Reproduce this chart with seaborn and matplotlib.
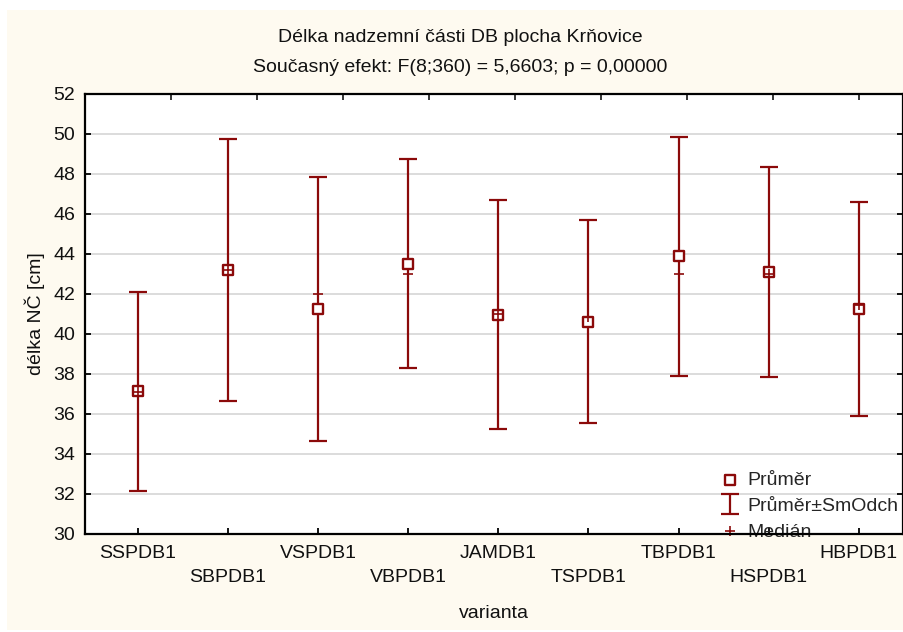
import matplotlib
matplotlib.use("Agg")
import matplotlib.pyplot as plt
import seaborn as sns
import pandas as pd
import numpy as np
from matplotlib.patches import Rectangle

categories = ["SSPDB1", "SBPDB1", "VSPDB1", "VBPDB1", "JAMDB1",
              "TSPDB1", "TBPDB1", "HSPDB1", "HBPDB1"]
means = [37.13, 43.22, 41.25, 43.52, 40.96, 40.62, 43.88, 43.10, 41.24]
sds = [4.97, 6.55, 6.60, 5.22, 5.72, 5.07, 5.97, 5.27, 5.34]
medians = [37.1, 43.2, 42.0, 43.0, 41.0, 40.85, 43.0, 43.0, 41.45]
yticks = [30, 32, 34, 36, 38, 40, 42, 44, 46, 48, 50, 52]

title1 = "Délka nadzemní části DB plocha Krňovice"
title2 = "Současný efekt: F(8;360) = 5,6603; p = 0,00000"
xlabel = "varianta"
ylabel = "délka NČ [cm]"
leg_labels = ["Průměr", "Průměr±SmOdch", "Medián"]

df = pd.DataFrame({"cat": categories, "x": np.arange(len(categories)),
                   "mean": means, "sd": sds, "median": medians})

sns.set_theme(style="white")
plt.rcParams["font.family"] = ["Liberation Sans", "DejaVu Sans"]
FS = 14

RED = "#8B0A0A"
fig = plt.figure(figsize=(9.04, 6.32), dpi=100, facecolor="white")
fig.patches.append(Rectangle((7 / 904, 0.003), 1, 1 - 10 / 632 - 0.003,
                             transform=fig.transFigure, facecolor="#FEFAF0",
                             edgecolor="none", zorder=-10))
ax = fig.add_axes([85 / 904, 1 - 534 / 632, (903 - 85) / 904, 440 / 632])
ax.set_facecolor("white")

eb = ax.errorbar(df["x"], df["mean"], yerr=df["sd"], fmt="none", ecolor=RED,
                 elinewidth=1.6, capsize=6.5, capthick=1.6, zorder=3,
                 label=leg_labels[1])
sns.scatterplot(data=df, x="x", y="mean", marker="s", s=50, facecolor="white",
                edgecolor=RED, linewidth=1.7, zorder=4, ax=ax,
                label=leg_labels[0])
sns.scatterplot(data=df, x="x", y="median", marker="+", s=45, color=RED,
                linewidth=1.2, zorder=5, ax=ax, label=leg_labels[2])

ax.set_xlim(-0.585, 8.49)
ax.set_ylim(30, 52)
ax.set_yticks(yticks)
ax.set_yticklabels([str(v) for v in yticks], fontsize=FS, color="#111111")
ax.set_xticks(df["x"])
ax.set_xticklabels([c if i % 2 == 0 else "\n" + c for i, c in enumerate(categories)],
                   fontsize=FS, color="#111111", linespacing=1.5)
ax.yaxis.grid(True, color="#D9D9D9", linewidth=1.3)
ax.set_axisbelow(True)
ax.tick_params(axis="both", direction="in", length=4, width=1.3, color="black",
               left=True, bottom=True, right=True)
ax.tick_params(axis="x", pad=8)
ax.tick_params(axis="y", pad=7)
for s in ax.spines.values():
    s.set_visible(True)
    s.set_color("black")
    s.set_linewidth(1.6)

sec = ax.secondary_xaxis("top")
sec.set_xticks([0.366 + 0.9545 * k for k in range(9)])
sec.set_xticklabels([])
sec.tick_params(direction="in", length=4, width=1.3)
sec.spines["top"].set_visible(False)

ax.set_xlabel(xlabel, fontsize=FS, labelpad=14, color="#111111")
ax.set_ylabel(ylabel, fontsize=FS, labelpad=6, color="#111111")

fig.text(460 / 904, 1 - 38 / 632, title1, ha="center",
         va="center", fontsize=FS, color="#111111")
fig.text(460 / 904, 1 - 67 / 632, title2, ha="center",
         va="center", fontsize=FS, color="#111111")

h, l = ax.get_legend_handles_labels()
order = [l.index(x) for x in leg_labels]
leg = ax.legend([h[i] for i in order], [l[i] for i in order], loc="center left",
                bbox_to_anchor=(0.779, 0.0636), frameon=False, fontsize=FS,
                handlelength=0.8, handletextpad=0.5, labelspacing=0.42,
                borderpad=0, borderaxespad=0)
leg.set_zorder(1)

fig.savefig("out.png", dpi=100, facecolor="white")
